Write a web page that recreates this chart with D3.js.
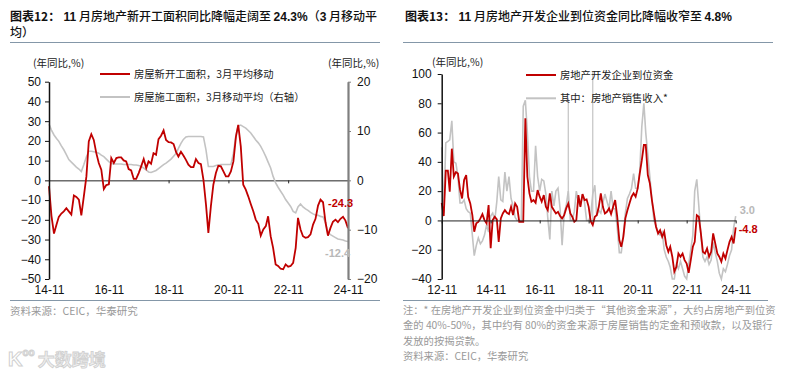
<!DOCTYPE html>
<html>
<head>
<meta charset="utf-8">
<script src="https://cdn.jsdelivr.net/npm/d3@7"></script>
<style>
  body { margin: 0; background: #fff; }
  svg text { font-family: "Liberation Sans", Arial, sans-serif; }
  svg .cjk { font-family: "Noto Sans CJK SC", "Liberation Sans", sans-serif; }
</style>
</head>
<body>
<script>
'use strict';

// 图表12 -- monthly, 14-11 .. 24-11
var newStarts = [-3, -18, -27, -22.4, -18.5, -16.8, -15.7, -14.1, -15.7, -17.3,
  -7.7, -8.4, -9.8, -17.8, -8, 2, 19.7, 23.4, 20.5, 13.8,
  8.8, 5.4, -4.4, -2.4, -2, 11.3, 8.8, 11.3, 11.6, 11.6,
  10.1, 9.6, 5.7, 5, 0.7, 0.7, 3.7, 7.1, 10.8, 6.2,
  9.6, 8.4, 13.8, 13, 20.9, 22.6, 25.3, 20.5, 19.4, 19.2,
  18.4, 14.3, 12.1, 14.5, 12.6, 10.4, 7.9, 6.7, 6.7, 10.8,
  8.8, 8.2, 0.3, -12.3, -26.6, -13.1, -2.2, 3.7, 7.4, 7.1,
  4.5, 2, 2, 4.5, 9.6, 22.2, 28.1, 17.2, -2.2, -4.7,
  -8.1, -12, -15.7, -19.9, -22, -28, -24.9, -23.2, -18.2, -28.3,
  -34.2, -42.6, -43.4, -44.8, -45.1, -42.6, -43.8, -43.4, -41.8, -34.2,
  -19, -24.9, -28.3, -29.1, -28.8, -27.4, -22.4, -19.5, -12.8, -9.8,
  -11.1, -21.5, -28, -24.1, -21, -19.9, -21.2, -19.5, -18.5, -20.4,
  -24.3];
var underConstruction = [11.4, 10.2, 9.2, 8.5, 7.9, 7.0, 6.2, 5.2, 4.2, 3.7,
  3.2, 2.7, 2.3, 1.8, 3.2, 4.8, 5.9, 5.9, 5.8, 5.7,
  5.5, 5.1, 4.8, 4.3, 3.8, 3.4, 3.3, 3.3, 3.3, 3.3,
  3.2, 3.2, 3.2, 3.2, 3.1, 3.1, 3.0, 2.8, 2.5, 2.1,
  1.7, 1.6, 1.8, 2.0, 2.4, 2.8, 3.2, 3.5, 3.9, 4.3,
  4.9, 5.5, 6.5, 7.5, 8.3, 8.8, 8.9, 8.9, 8.9, 8.9,
  8.9, 8.9, 8.8, 6.2, 2.8, 2.8, 2.8, 3.0, 3.1, 3.2,
  3.2, 3.2, 3.2, 3.2, 5.5, 9.2, 11.0, 11.2, 10.9, 10.6,
  10.1, 9.6, 8.9, 8.2, 7.6, 6.9, 5.9, 4.8, 3.7, 2.5,
  0.8, -0.5, -1.4, -2.2, -3.0, -3.9, -4.6, -5.3, -6.3, -6.6,
  -5.4, -4.8, -5.4, -5.8, -6.1, -6.5, -6.8, -7.0, -7.1, -7.3,
  -7.4, -8.6, -10.6, -11.0, -11.3, -11.6, -11.9, -12.0, -12.1, -12.3,
  -12.4];
var leftTicks12 = [-50, -40, -30, -20, -10, 0, 10, 20, 30, 40, 50];
var rightTicks12 = [-20, -10, 0, 10, 20];
var xLabels12 = ['14-11', '16-11', '18-11', '20-11', '22-11', '24-11'];

// 图表13 -- monthly, 12-11 .. 24-11
var fundsInPlace = [12, 3, 34, 34, 19.6, 49, 30, 33, 32, 21,
  15, 27.6, 31, 16, 11.6, 3.6, -7.7, -2, -1, 1.4,
  4.3, 0.2, -2, 10.5, -19, 0.2, 2.5, 0.7, -14.6, 1.4,
  4.8, 7, 5.2, 4.3, 9.3, 3.6, 11.6, 9.3, -0.9, -0.9,
  -0.9, 69.7, 29.8, 18.5, 12.8, 13.9, 12.1, 20.7, 16.2, 12.8,
  17.3, 9.3, 7, 18.5, 9.3, 7, 4.8, 5.9, 3, 1.4,
  3.6, 8.2, 11.6, 4.8, 2.5, -0.9, 0.2, 17.3, 9.3, 18,
  13.9, 14.4, 9.3, -0.5, -3.2, 2.5, 3.6, 9.3, 18.5, 9.3,
  4.8, 5.9, 8.2, 4.3, 9.3, 13.9, 2.5, -13.4, -18, -11.2,
  1.4, 7, 11.6, 16.2, 18.5, 16.2, 21.9, 32, 41, 51.5,
  51.5, 31, 25.3, 13.9, 4.8, -4.3, -8.9, -6.6, -11.2, -7.7,
  -16.9, -21.4, -18, -24.8, -35, -31.7, -22.6, -24.8, -22.6, -27.1,
  -29.4, -35.8, -27.1, -18, -14.6, 3.6, 2.5, -8.9, -21.4, -22.6,
  -19.1, -24.8, -21.4, -8.9, -15.7, -22.6, -24.8, -28.2, -22.6, -26,
  -20.3, -14.6, -11.2, -15.7, -4.8];
var salesReceipts = [50, 5, 53, 54, 55, 68, 40, 39, 30, 12,
  12, 14, 8, 6, 5, -10, -24, -17, -12, -16,
  -14, -10, -3, -8, 3, 5, 0, 13, 30, 14,
  13, 33, 20, 30, 15, 10, 2, 0, 0, 0,
  78, 82, 60, 30, 20, 20, 51, 30, 20, 28,
  27, 18, 2, -13, 20, 10, 20, 22, 8, -17,
  5, 10, 20, 0, 0, 6, 20, 12, 10, 18,
  12, 0, 0, 3, 18, 24, 3, 7, 5, 12,
  18, 13, 8, 20, 8, 8, -5, -22, -22, -10,
  5, 15, 18, 22, 32, 22, 22, 33, 64, 80,
  60, 45, 30, 14, 0, -4, -8, -10, -8, -20,
  -25, -28, -32, -40, -40, -30, -33, -28, -33, -38,
  -40, -30, -20, -10, 20, 28, 10, -10, -25, -28,
  -25, -30, -27, -15, -22, -28, -36, -40, -33, -35,
  -30, -24, -20, -5, 3.0];
var yTicks13 = [-40, -20, 0, 20, 40, 60, 80, 100];
var xLabels13 = ['12-11', '14-11', '16-11', '18-11', '20-11', '22-11', '24-11'];

var RED = '#c00000', GREY = '#c3c3c3', RULE = '#8497a8';
var parseYM = d3.timeParse('%y-%m'), fmtYM = d3.timeFormat('%y-%m');

var svg = d3.select('body').append('svg')
  .attr('width', 793).attr('height', 373);

function monthly(start, values) {
  return values.map(function(v, i) { return { date: d3.timeMonth.offset(start, i), v: v }; });
}

function rule(x1, x2, y) {
  svg.append('line').attr('x1', x1).attr('x2', x2).attr('y1', y).attr('y2', y)
    .attr('stroke', RULE).attr('stroke-width', 1);
}

function title(x, y, bold, rest) {
  var t = svg.append('text').attr('x', x).attr('y', y).attr('font-size', 12).attr('fill', '#111');
  t.append('tspan').attr('class', 'cjk').attr('font-weight', 700).text(bold);
  rest.forEach(function(p) {
    t.append('tspan').attr('class', p[1] ? '' : 'cjk')
      .attr('font-weight', p[1] ? 700 : 500).text(p[0]);
  });
}

function legend(x, y, color, label) {
  svg.append('line').attr('x1', x).attr('x2', x + 30).attr('y1', y).attr('y2', y)
    .attr('stroke', color).attr('stroke-width', 2);
  svg.append('text').attr('class', 'cjk').attr('x', x + 34).attr('y', y + 4)
    .attr('font-size', 10.3).attr('fill', '#222').text(label);
}

function styleAxis(g, color, width) {
  g.select('.domain').attr('stroke', color).attr('stroke-width', width);
  g.selectAll('.tick line').attr('stroke', color);
  g.selectAll('.tick text').attr('fill', '#111').attr('font-size', 12);
}

// ---------------- 图表12 ----------------
var d12a = monthly(parseYM('14-11'), newStarts);
var d12b = monthly(parseYM('14-11'), underConstruction);

var x12 = d3.scaleTime().domain([d12a[0].date, d12a[d12a.length - 1].date]).range([49, 348]);
var yL = d3.scaleLinear().domain([-50, 50]).range([279, 81.7]);
var yR = d3.scaleLinear().domain([-20, 20]).range([279, 81.7]);

title(10, 21, '图表12：', [[' 11', 1], [' 月房地产新开工面积同比降幅走阔至 '], ['24.3%', 1], ['（'], ['3', 1], [' 月移动平']]);
svg.append('text').attr('class', 'cjk').attr('x', 10).attr('y', 37)
  .attr('font-size', 12).attr('font-weight', 500).attr('fill', '#111').text('均）');
rule(10, 380, 42.5);

svg.append('text').attr('class', 'cjk').attr('x', 33).attr('y', 67)
  .attr('font-size', 10.5).attr('fill', '#222').text('(年同比,%)');
svg.append('text').attr('class', 'cjk').attr('x', 328).attr('y', 67)
  .attr('font-size', 10.5).attr('fill', '#222').text('(年同比,%)');

// zero line with small ticks
var ticks12 = xLabels12.map(parseYM);
svg.append('g').attr('transform', 'translate(0,' + yL(0) + ')')
  .call(d3.axisBottom(x12).tickValues(ticks12).tickFormat('').tickSize(3).tickSizeOuter(0))
  .call(styleAxis, '#222', 1);
svg.append('g').attr('transform', 'translate(0,279)')
  .call(d3.axisBottom(x12).tickValues(ticks12).tickFormat(fmtYM).tickSize(0).tickPadding(6))
  .call(function(g) { g.select('.domain').remove(); g.selectAll('text').attr('fill', '#111').attr('font-size', 12); });

var lineL = d3.line().x(function(d) { return x12(d.date); }).y(function(d) { return yL(d.v); });
var lineR = d3.line().x(function(d) { return x12(d.date); }).y(function(d) { return yR(d.v); });

svg.append('path').datum(d12b).attr('d', lineR)
  .attr('fill', 'none').attr('stroke', GREY).attr('stroke-width', 1.6);
svg.append('path').datum(d12a).attr('d', lineL)
  .attr('fill', 'none').attr('stroke', RED).attr('stroke-width', 1.8);

svg.append('g').attr('transform', 'translate(49,0)')
  .call(d3.axisLeft(yL).tickValues(leftTicks12).tickSize(4).tickPadding(4).tickSizeOuter(0))
  .call(styleAxis, '#111', 1.5);
svg.append('g').attr('transform', 'translate(348,0)')
  .call(d3.axisRight(yR).tickValues(rightTicks12).tickSize(3).tickPadding(6).tickSizeOuter(0))
  .call(styleAxis, '#7f7f7f', 2.2);

legend(100, 74, RED, '房屋新开工面积，3月平均移动');
legend(100, 97, GREY, '房屋施工面积，3月移动平均（右轴）');

var last12a = d12a[d12a.length - 1], last12b = d12b[d12b.length - 1];
svg.append('text').attr('x', x12(last12a.date) - 20).attr('y', yL(last12a.v) - 21)
  .attr('font-size', 11).attr('font-weight', 700).attr('fill', RED).text(last12a.v.toFixed(1));
svg.append('text').attr('x', x12(last12b.date) - 23).attr('y', yR(last12b.v) + 15)
  .attr('font-size', 11).attr('font-weight', 700).attr('fill', '#b8b8b8').text(last12b.v.toFixed(1));

rule(10, 380, 300.5);
svg.append('text').attr('class', 'cjk').attr('x', 10).attr('y', 315)
  .attr('font-size', 10.5).attr('fill', '#999').text('资料来源：CEIC，华泰研究');

// watermark
var wm = svg.append('text').attr('x', 8).attr('y', 366).attr('font-size', 20).attr('font-weight', 700)
  .attr('fill', '#fff').attr('stroke', '#d0d0d0').attr('stroke-width', 1);
wm.append('tspan').text('K');
wm.append('tspan').attr('font-size', 10).attr('dy', -10).text('oo');
wm.append('tspan').attr('class', 'cjk').attr('font-size', 17).attr('dy', 10).attr('dx', 3)
  .attr('fill', '#eeeeee').attr('stroke', '#cfcfcf').attr('stroke-width', 0.8).text('大数跨境');

// ---------------- 图表13 ----------------
var d13a = monthly(parseYM('12-11'), fundsInPlace);
var d13b = monthly(parseYM('12-11'), salesReceipts);

var x13 = d3.scaleTime().domain([d13a[0].date, d13a[d13a.length - 1].date]).range([441.7, 735.7]);
var y13 = d3.scaleLinear().domain([-40, 100]).range([279, 74]);

title(405, 21, '图表13：', [[' 11', 1], [' 月房地产开发企业到位资金同比降幅收窄至 '], ['4.8%', 1]]);
rule(403, 773, 42.5);

svg.append('text').attr('class', 'cjk').attr('x', 432).attr('y', 66)
  .attr('font-size', 10.5).attr('fill', '#222').text('(年同比,%)');

var ticks13 = xLabels13.map(parseYM);
svg.append('g').attr('transform', 'translate(0,279)')
  .call(d3.axisBottom(x13).tickValues(ticks13).tickFormat(fmtYM).tickSize(0).tickPadding(6))
  .call(function(g) { g.select('.domain').remove(); g.selectAll('text').attr('fill', '#111').attr('font-size', 12); });

var line13 = d3.line().x(function(d) { return x13(d.date); }).y(function(d) { return y13(d.v); });

// leader lines from the legend
var leaders = [[62, 98.3], [74, 72]];
svg.selectAll('line.leader').data(leaders).enter().append('line').attr('class', 'leader')
  .attr('x1', function(d) { return x13(d13a[d[0]].date); })
  .attr('x2', function(d) { return x13(d13a[d[0]].date); })
  .attr('y1', function(d) { return d[1]; })
  .attr('y2', function(d) { return y13(d13a[d[0]].v); })
  .attr('stroke', GREY).attr('stroke-width', 1.2);

svg.append('path').datum(d13b).attr('d', line13)
  .attr('fill', 'none').attr('stroke', GREY).attr('stroke-width', 1.6);
svg.append('path').datum(d13a).attr('d', line13)
  .attr('fill', 'none').attr('stroke', RED).attr('stroke-width', 1.8);

svg.append('g').attr('transform', 'translate(0,' + y13(0) + ')')
  .call(d3.axisBottom(x13).tickValues(ticks13).tickFormat('').tickSize(3).tickSizeOuter(0))
  .call(styleAxis, '#222', 1);
svg.append('g').attr('transform', 'translate(441.7,0)')
  .call(d3.axisLeft(y13).tickValues(yTicks13).tickSize(4).tickPadding(6).tickSizeOuter(0))
  .call(styleAxis, '#111', 1.5);

legend(526, 75, RED, '房地产开发企业到位资金');
legend(526, 98.3, GREY, '其中：房地产销售收入*');

var last13a = d13a[d13a.length - 1], last13b = d13b[d13b.length - 1];
svg.append('text').attr('x', x13(last13b.date) + 4).attr('y', y13(last13b.v) - 2)
  .attr('font-size', 11).attr('font-weight', 700).attr('fill', '#b8b8b8').text(last13b.v.toFixed(1));
svg.append('text').attr('x', x13(last13a.date) + 3).attr('y', y13(last13a.v) + 6)
  .attr('font-size', 11).attr('font-weight', 700).attr('fill', RED).text(last13a.v.toFixed(1));

rule(403, 768, 300.5);
var notes = [
  '注：* 在房地产开发企业到位资金中归类于“其他资金来源”，大约占房地产到位资',
  '金的 40%-50%，其中约有 80%的资金来源于房屋销售的定金和预收款，以及银行',
  '发放的按揭贷款。',
  '资料来源：CEIC，华泰研究'
];
svg.selectAll('text.note').data(notes).enter().append('text')
  .attr('class', 'note cjk')
  .attr('x', 403).attr('y', function(d, i) { return 314 + i * 15.3; })
  .attr('font-size', 10.3).attr('fill', '#999')
  .text(function(d) { return d; });
</script>
</body>
</html>
